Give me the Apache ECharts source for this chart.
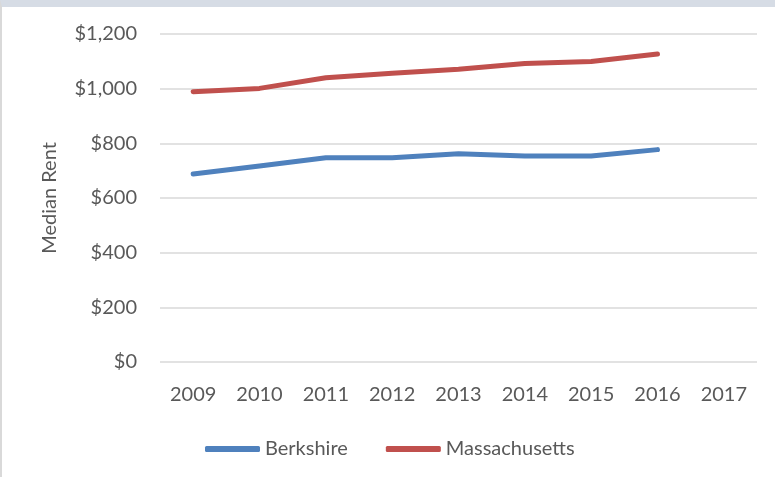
<!DOCTYPE html>
<html>
<head>
<meta charset="utf-8">
<script src="https://cdn.jsdelivr.net/npm/echarts@6/dist/echarts.min.js"></script>
<style>
  html, body { margin: 0; padding: 0; background: #fff; }
  #wrap {
    width: 775px; height: 477px; box-sizing: border-box;
    border-top: 7px solid #D6DCE5; border-left: 2px solid #D9D9D9;
  }
  #chart { width: 773px; height: 470px; }
</style>
</head>
<body>
<div id="wrap"><div id="chart"></div></div>
<script>
// 数据
var years = ['2009', '2010', '2011', '2012', '2013', '2014', '2015', '2016', '2017'];
var berkshire = [688, 717, 747, 747, 762, 754, 754, 777];
var massachusetts = [989, 1001, 1040, 1056, 1071, 1092, 1099, 1127];
var yTicks = [0, 200, 400, 600, 800, 1000, 1200];

var chart = echarts.init(document.getElementById('chart'));
var font = 'Lato, "Open Sans", sans-serif';
var grey = '#595959';

var option = {
  animation: false,
  textStyle: { fontFamily: font },
  legend: {
    data: ['Berkshire', 'Massachusetts'],
    left: 198,
    top: 427,
    icon: 'roundRect',
    itemWidth: 55,
    itemHeight: 6,
    itemGap: 38,
    textStyle: { color: grey, fontSize: 20, fontFamily: font }
  },
  grid: { left: 158, right: 18, top: 27, bottom: 115 },
  xAxis: {
    type: 'category',
    boundaryGap: true,
    data: years,
    axisLine: { show: false },
    axisTick: { show: false },
    axisLabel: { color: grey, fontSize: 20, margin: 23, fontFamily: font }
  },
  yAxis: {
    type: 'value',
    min: yTicks[0],
    max: yTicks[yTicks.length - 1],
    interval: 200,
    name: 'Median Rent',
    nameLocation: 'middle',
    nameGap: 100,
    nameTextStyle: { color: grey, fontSize: 20, fontFamily: font },
    axisLine: { show: false },
    axisTick: { show: false },
    splitLine: { lineStyle: { color: '#D9D9D9', width: 1.5 } },
    axisLabel: {
      color: grey, fontSize: 20, margin: 23, fontFamily: font,
      formatter: function (v) { return '$' + v.toLocaleString('en-US'); }
    }
  },
  series: [
    {
      name: 'Berkshire', type: 'line', data: berkshire,
      symbol: 'none', color: '#4F81BD',
      lineStyle: { width: 5, cap: 'round', join: 'round' }
    },
    {
      name: 'Massachusetts', type: 'line', data: massachusetts,
      symbol: 'none', color: '#C0504D',
      lineStyle: { width: 5, cap: 'round', join: 'round' }
    }
  ]
};
chart.setOption(option);
</script>
</body>
</html>
